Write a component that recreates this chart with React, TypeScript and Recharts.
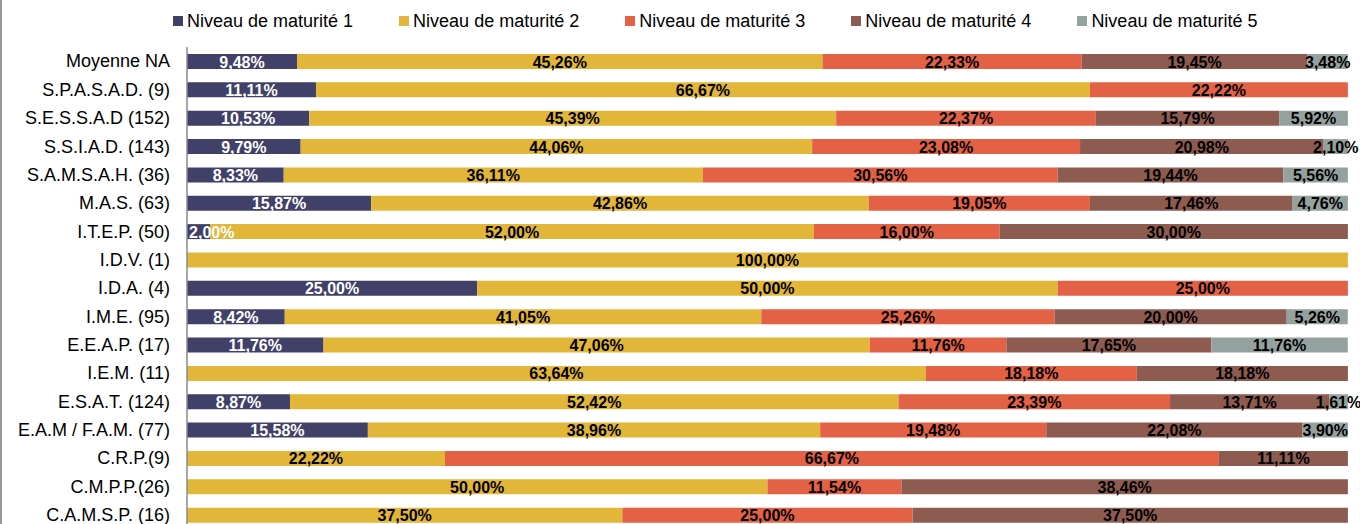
import { Bar, BarChart, LabelList, XAxis, YAxis } from "recharts";

const categories = [
  "Moyenne NA",
  "S.P.A.S.A.D. (9)",
  "S.E.S.S.A.D (152)",
  "S.S.I.A.D. (143)",
  "S.A.M.S.A.H. (36)",
  "M.A.S. (63)",
  "I.T.E.P. (50)",
  "I.D.V. (1)",
  "I.D.A. (4)",
  "I.M.E. (95)",
  "E.E.A.P. (17)",
  "I.E.M. (11)",
  "E.S.A.T. (124)",
  "E.A.M / F.A.M. (77)",
  "C.R.P.(9)",
  "C.M.P.P.(26)",
  "C.A.M.S.P. (16)",
];

const level1 = [9.48, 11.11, 10.53, 9.79, 8.33, 15.87, 2.0, 0, 25.0, 8.42, 11.76, 0, 8.87, 15.58, 0, 0, 0];
const level2 = [45.26, 66.67, 45.39, 44.06, 36.11, 42.86, 52.0, 100.0, 50.0, 41.05, 47.06, 63.64, 52.42, 38.96, 22.22, 50.0, 37.5];
const level3 = [22.33, 22.22, 22.37, 23.08, 30.56, 19.05, 16.0, 0, 25.0, 25.26, 11.76, 18.18, 23.39, 19.48, 66.67, 11.54, 25.0];
const level4 = [19.45, 0, 15.79, 20.98, 19.44, 17.46, 30.0, 0, 0, 20.0, 17.65, 18.18, 13.71, 22.08, 11.11, 38.46, 37.5];
const level5 = [3.48, 0, 5.92, 2.1, 5.56, 4.76, 0, 0, 0, 5.26, 11.76, 0, 1.61, 3.9, 0, 0, 0];

const series = [
  { key: "n1", name: "Niveau de maturité 1", color: "#404068", labelColor: "#ffffff", values: level1 },
  { key: "n2", name: "Niveau de maturité 2", color: "#e2b638", labelColor: "#000000", values: level2 },
  { key: "n3", name: "Niveau de maturité 3", color: "#e36144", labelColor: "#000000", values: level3 },
  { key: "n4", name: "Niveau de maturité 4", color: "#8e5b50", labelColor: "#000000", values: level4 },
  { key: "n5", name: "Niveau de maturité 5", color: "#95a19e", labelColor: "#000000", values: level5 },
];

const data = categories.map((name, i) => {
  const row: Record<string, string | number> = { name };
  series.forEach((s) => {
    row[s.key] = s.values[i];
  });
  return row;
});

const FONT = "'Liberation Sans', Arial, sans-serif";
const PLOT_LEFT = 187;

function CategoryTick(props: any) {
  const { x, y, payload } = props;
  return (
    <text
      x={x}
      y={y}
      textAnchor="end"
      dy="0.35em"
      fontSize={18}
      fontFamily={FONT}
      fill="#000"
    >
      {payload.value}
    </text>
  );
}

function makeLabel(color: string) {
  return function ValueLabel(props: any) {
    const { x, y, width, height, value } = props;
    if (!value) return null;
    const text = `${Number(value).toFixed(2).replace(".", ",")}%`;
    // rough bold width, used to keep the label inside the plot on the left
    const textWidth = text.length * 9.1;
    let cx = x + width / 2;
    if (cx - textWidth / 2 < PLOT_LEFT + 2) cx = PLOT_LEFT + 2 + textWidth / 2;
    return (
      <text
        x={cx}
        y={y + height / 2 + 6}
        textAnchor="middle"
        fontSize={16}
        fontWeight="bold"
        fontFamily={FONT}
        fill={color}
      >
        {text}
      </text>
    );
  };
}

export default function App() {
  return (
    <div
      style={{
        position: "absolute",
        left: 0,
        top: 0,
        width: 1360,
        height: 524,
        overflow: "hidden",
        background: "#fff",
      }}
    >
      <div
        style={{
          position: "absolute",
          left: 0,
          top: 0,
          width: 1.5,
          height: 524,
          background: "#9a9a9a",
        }}
      />

      <div
        style={{
          position: "absolute",
          left: 173,
          top: 11,
          display: "flex",
          gap: 46,
          fontFamily: FONT,
          fontSize: 18,
          lineHeight: "20px",
          color: "#000",
          whiteSpace: "nowrap",
        }}
      >
        {series.map((s) => (
          <div key={s.key} style={{ display: "flex", alignItems: "center", gap: 4 }}>
            <span
              style={{
                display: "inline-block",
                width: 10,
                height: 10,
                background: s.color,
              }}
            />
            <span>{s.name}</span>
          </div>
        ))}
      </div>

      <BarChart
        width={1360}
        height={529}
        data={data}
        layout="vertical"
        margin={{ top: 47, right: 12, left: 0, bottom: 0 }}
        barSize={15}
        style={{ overflow: "visible" }}
      >
        <XAxis type="number" domain={[0, 100]} hide />
        <YAxis
          type="category"
          dataKey="name"
          width={PLOT_LEFT}
          tickLine={false}
          tickSize={0}
          tickMargin={17}
          axisLine={{ stroke: "#8a8a8a", strokeWidth: 1.5 }}
          tick={<CategoryTick />}
          interval={0}
        />
        {series.map((s) => (
          <Bar
            key={s.key}
            dataKey={s.key}
            name={s.name}
            stackId="a"
            fill={s.color}
            isAnimationActive={false}
          >
            <LabelList dataKey={s.key} content={makeLabel(s.labelColor)} />
          </Bar>
        ))}
      </BarChart>
    </div>
  );
}
